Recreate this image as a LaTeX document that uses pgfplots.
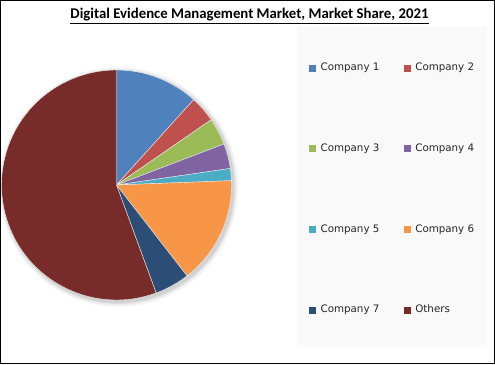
\documentclass[border=0pt]{standalone}
\usepackage{pgfplots}
\usepackage{pgfplotstable}
\pgfplotsset{compat=1.18}
\usepackage{fontspec}
\setmainfont{Carlito}
\newfontfamily\legfont{DejaVu Sans}
\definecolor{c1}{HTML}{4F81BD}
\definecolor{c2}{HTML}{C0504D}
\definecolor{c3}{HTML}{9BBB59}
\definecolor{c4}{HTML}{8064A2}
\definecolor{c5}{HTML}{4BACC6}
\definecolor{c6}{HTML}{F79646}
\definecolor{c7}{HTML}{2C4D75}
\definecolor{c8}{HTML}{772C2A}
\definecolor{legbg}{HTML}{F9F9F9}
\pgfplotstableread{
name share color
C1 11.7 c1
C2 3.7 c2
C3 3.8 c3
C4 3.5 c4
C5 1.7 c5
C6 15.1 c6
C7 4.9 c7
Others 55.6 c8
}\piedata
\begin{document}
\begin{tikzpicture}
\begin{axis}[
  x=1pt, y=1pt, xmin=0, xmax=495, ymin=0, ymax=364,
  hide axis, scale only axis, clip=false,
  anchor=origin, at={(0,0)},
  legend columns=2,
  legend cell align=left,
  legend style={at={(axis cs:306,304)}, anchor=north west, draw=none, fill=none,
    font=\legfont\fontsize{10.3}{12}\selectfont, text=black!85, row sep=69.5pt,
    nodes={inner sep=1pt},
    /tikz/every odd column/.append style={column sep=4pt},
    /tikz/every even column/.append style={column sep=23.5pt}},
]
% background, border and legend box
\fill[white] (axis cs:0,0) rectangle (axis cs:495,364);
\fill[legbg] (axis cs:297,17) rectangle (axis cs:487,337);
% soft shadow
\fill[black, opacity=0.03] (axis cs:118.5,177) circle[radius=120pt];
\fill[black, opacity=0.04] (axis cs:118.5,177) circle[radius=118.5pt];
\fill[black, opacity=0.05] (axis cs:118.5,177) circle[radius=117pt];
\fill[black, opacity=0.06] (axis cs:118.5,177) circle[radius=116pt];
% pie slices
\def\cum{0}
\pgfplotsforeachungrouped \i in {0,...,7}{
  \pgfplotstablegetelem{\i}{share}\of\piedata \let\val\pgfplotsretval
  \pgfplotstablegetelem{\i}{color}\of\piedata \let\col\pgfplotsretval
  \pgfmathsetmacro\sa{90-3.6*\cum}
  \pgfmathsetmacro\ea{90-3.6*(\cum+\val)}
  \pgfmathsetmacro\cum{\cum+\val}
  \edef\temp{\noexpand\fill[\col, draw=white!85!gray, line width=0.4pt] (axis cs:116.5,179) -- ++(\sa:115pt) arc[start angle=\sa, end angle=\ea, radius=115pt] -- cycle;}
  \temp
}
\draw[black, line width=1.2pt] (axis cs:0.6,0.6) rectangle (axis cs:494.4,363.4);
% title
\node[font=\bfseries\fontsize{14.8}{17}\selectfont, anchor=base] at (axis cs:249.5,345) {\underline{Digital Evidence Management Market, Market Share, 2021}};
% legend
\addlegendimage{legend image code/.code={\fill[c1] (0pt,-3pt) rectangle (6pt,3pt);}}
\addlegendentry{Company 1}
\addlegendimage{legend image code/.code={\fill[c2] (0pt,-3pt) rectangle (6pt,3pt);}}
\addlegendentry{Company 2}
\addlegendimage{legend image code/.code={\fill[c3] (0pt,-3pt) rectangle (6pt,3pt);}}
\addlegendentry{Company 3}
\addlegendimage{legend image code/.code={\fill[c4] (0pt,-3pt) rectangle (6pt,3pt);}}
\addlegendentry{Company 4}
\addlegendimage{legend image code/.code={\fill[c5] (0pt,-3pt) rectangle (6pt,3pt);}}
\addlegendentry{Company 5}
\addlegendimage{legend image code/.code={\fill[c6] (0pt,-3pt) rectangle (6pt,3pt);}}
\addlegendentry{Company 6}
\addlegendimage{legend image code/.code={\fill[c7] (0pt,-3pt) rectangle (6pt,3pt);}}
\addlegendentry{Company 7}
\addlegendimage{legend image code/.code={\fill[c8] (0pt,-3pt) rectangle (6pt,3pt);}}
\addlegendentry{Others}
\end{axis}
\pgfresetboundingbox
\path (0pt,0pt) rectangle (495pt,364pt);
\end{tikzpicture}
\end{document}
